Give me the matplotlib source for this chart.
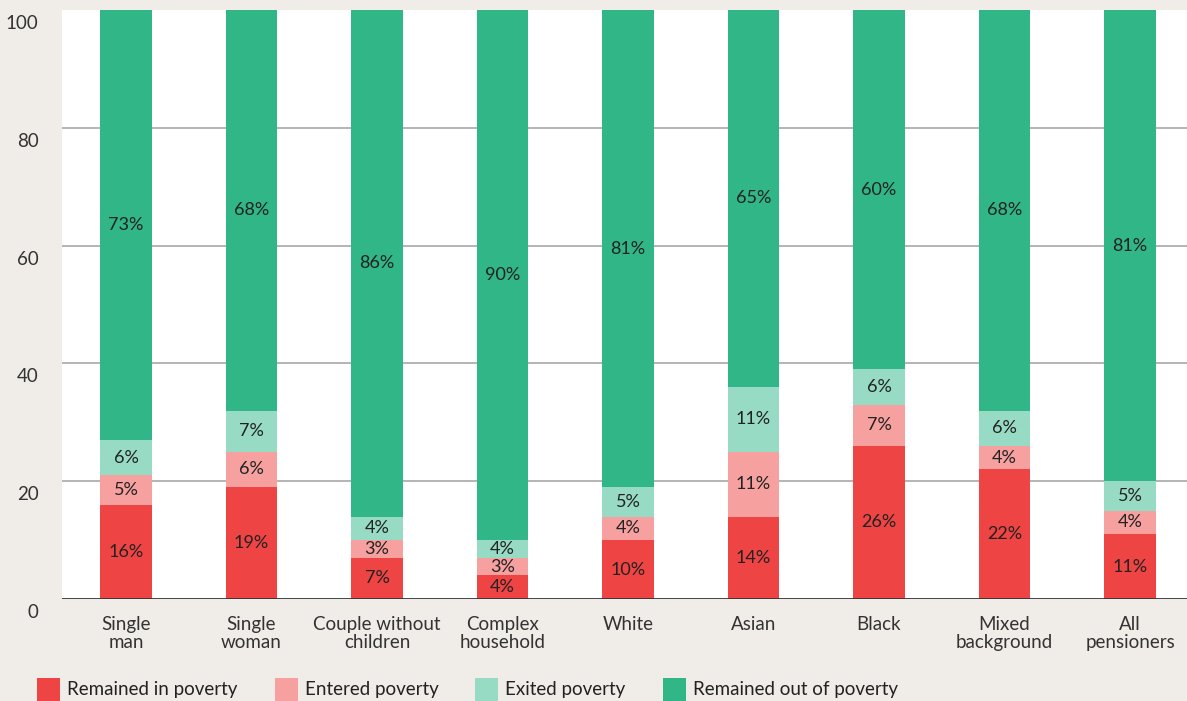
import numpy as np
import matplotlib.pyplot as plt
from matplotlib.patches import Rectangle
from matplotlib.transforms import ScaledTranslation

plt.rcParams['font.family'] = ['Lato', 'DejaVu Sans']

categories = ['Single\nman', 'Single\nwoman', 'Couple without\nchildren', 'Complex\nhousehold',
              'White', 'Asian', 'Black', 'Mixed\nbackground', 'All\npensioners']

# bar segment heights
remained_in = [16, 19, 7, 4, 10, 14, 26, 22, 11]
entered = [5, 6, 3, 3, 4, 11, 7, 4, 4]
exited = [6, 7, 4, 3, 5, 11, 6, 6, 5]
remained_out = [73, 68, 86, 90, 81, 64, 61, 68, 80]

# printed labels
remained_in_lab = [16, 19, 7, 4, 10, 14, 26, 22, 11]
entered_lab = [5, 6, 3, 3, 4, 11, 7, 4, 4]
exited_lab = [6, 7, 4, 4, 5, 11, 6, 6, 5]
remained_out_lab = [73, 68, 86, 90, 81, 65, 60, 68, 81]

series = ['Remained in poverty', 'Entered poverty', 'Exited poverty', 'Remained out of poverty']
colors = ['#ef4444', '#f6a19f', '#98dbc4', '#31b687']

bg = '#f0ece8'
W, H = 1187, 701
fig = plt.figure(figsize=(W / 100, H / 100), dpi=100, facecolor=bg)
ax = fig.add_axes([62 / W, (H - 599) / H, (W - 62) / W, (599 - 10) / H])
ax.set_facecolor('white')

x = np.arange(len(categories))
bottom = np.zeros(len(categories))
for vals, labs, c in zip([remained_in, entered, exited, remained_out],
                         [remained_in_lab, entered_lab, exited_lab, remained_out_lab], colors):
    ax.bar(x, vals, bottom=bottom, width=0.41, color=c, zorder=3)
    for xi, b, v, l in zip(x, bottom, vals, labs):
        ax.text(xi, b + v / 2, f'{l}%', ha='center', va='center', fontsize=13,
                color='#222222', zorder=4)
    bottom += np.array(vals)

ax.set_xlim(-0.51, -0.51 + (W - 62) / 125.5)
ax.set_ylim(0, 100)
ax.set_yticks([0, 20, 40, 60, 80, 100])
for y in [20, 40, 60, 80]:
    ax.axhline(y, color='#a8a8a8', lw=1.2, zorder=1)
ax.axhline(0, color='#333333', lw=2, zorder=5)

for s in ax.spines.values():
    s.set_visible(False)
ax.tick_params(axis='both', length=0, labelsize=13.5, colors='#333333')
ax.tick_params(axis='y', pad=17)
ax.tick_params(axis='x', pad=12)
ax.set_xticks(x)
ax.set_xticklabels(categories, linespacing=1.12)
for lab in ax.get_yticklabels():
    lab.set_transform(lab.get_transform() + ScaledTranslation(0, -0.12, fig.dpi_scale_trans))

# legend
leg_x = [37, 275, 475, 663]
for lx, name, c in zip(leg_x, series, colors):
    fig.patches.append(Rectangle((lx / W, 0), 23 / W, 23 / H, transform=fig.transFigure,
                                 facecolor=c, edgecolor='none'))
    fig.text((lx + 30) / W, (H - 690) / H, name, ha='left', va='center', fontsize=13.5,
             color='#222222')

fig.savefig('out.png', dpi=100, facecolor=bg)
